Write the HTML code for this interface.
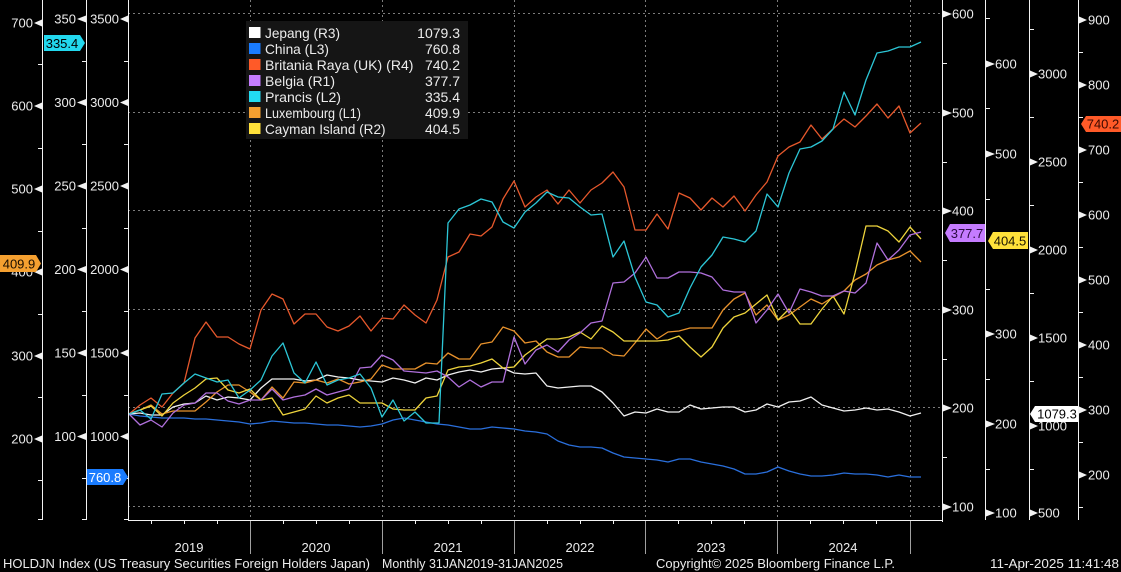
<!DOCTYPE html>
<html><head><meta charset="utf-8"><style>
html,body{margin:0;padding:0;background:#000;}
svg{display:block;}
text{font-family:"Liberation Sans",sans-serif;}
</style></head><body>
<svg width="1121" height="572" viewBox="0 0 1121 572" xmlns="http://www.w3.org/2000/svg">
<rect width="1121" height="572" fill="#000"/>
<!-- grid -->
<g stroke="#7c7c7c" stroke-width="1" stroke-dasharray="2,3" fill="none">
<line x1="128" y1="13.5" x2="942" y2="13.5"/>
<line x1="128" y1="112.5" x2="942" y2="112.5"/>
<line x1="128" y1="210.5" x2="942" y2="210.5"/>
<line x1="128" y1="309.5" x2="942" y2="309.5"/>
<line x1="128" y1="407.5" x2="942" y2="407.5"/>
<line x1="128" y1="506.5" x2="942" y2="506.5"/>
<line x1="250.5" y1="0" x2="250.5" y2="520"/>
<line x1="382.5" y1="0" x2="382.5" y2="520"/>
<line x1="514.5" y1="0" x2="514.5" y2="520"/>
<line x1="645.5" y1="0" x2="645.5" y2="520"/>
<line x1="777.5" y1="0" x2="777.5" y2="520"/>
<line x1="910.5" y1="0" x2="910.5" y2="520"/>
</g>
<!-- series -->
<g fill="none" stroke-width="1.3" stroke-linejoin="round">
<polyline stroke="#2a6fdc" points="129,414 140,416 151,417 162,418 173,418 184,418 195,419 206,419 217,420 228,421 239,422 250,424 261,423 272,421 283,422 294,423 305,423 316,424 327,425 338,425 349,426 360,427 371,426 382,424 393,420 404,418 415,420 426,422 437,424 448,425 459,427 470,429 481,429 492,427 503,428 514,429 525,431 536,432 547,434 558,441 569,445 580,447 591,447 602,448 613,453 624,457 635,458 646,459 657,460 668,462 679,459 690,459 701,462 712,464 723,466 734,469 745,474 756,474 767,472 778,467 789,471 800,474 811,476 822,476 833,475 844,473 855,474 866,474 877,475 888,477 899,475 910,477 921,477"/>
<polyline stroke="#f0f0f0" points="129,414 140,413 151,415 162,415 173,407 184,404 195,403 206,396 217,400 228,397 239,398 250,400 261,388 272,379 283,379 294,379 305,381 316,380 327,375 338,377 349,378 360,380 371,381 382,382 393,378 404,380 415,383 426,378 437,380 448,375 459,372 470,370 481,372 492,369 503,368 514,373 525,374 536,373 547,386 558,388 569,387 580,386 591,386 602,392 613,403 624,416 635,412 646,413 657,409 668,412 679,412 690,405 701,409 712,408 723,407 734,407 745,412 756,410 767,404 778,407 789,402 800,401 811,397 822,405 833,408 844,411 855,410 866,408 877,410 888,409 899,412 910,416 921,413"/>
<polyline stroke="#e8922c" points="129,414 140,410 151,405 162,414 173,411 184,411 195,411 206,402 217,392 228,385 239,385 250,392 261,400 272,387 283,398 294,382 305,383 316,380 327,383 338,379 349,384 360,382 371,379 382,365 393,369 404,369 415,369 426,363 437,364 448,353 459,359 470,359 481,344 492,342 503,327 514,331 525,343 536,341 547,352 558,357 569,357 580,347 591,348 602,348 613,355 624,356 635,343 646,329 657,339 668,332 679,331 690,328 701,328 712,328 723,310 734,299 745,293 756,315 767,305 778,320 789,315 800,307 811,299 822,304 833,297 844,291 855,280 866,274 877,265 888,260 899,257 910,251 921,262"/>
<polyline stroke="#eed43c" points="129,414 140,410 151,406 162,416 173,403 184,395 195,388 206,379 217,378 228,390 239,393 250,389 261,400 272,398 283,415 294,412 305,409 316,396 327,403 338,398 349,395 360,403 371,403 382,403 393,409 404,410 415,410 426,398 437,396 448,370 459,367 470,366 481,363 492,359 503,368 514,367 525,355 536,347 547,339 558,339 569,337 580,332 591,339 602,326 613,332 624,341 635,341 646,341 657,341 668,340 679,336 690,347 701,357 712,347 723,328 734,317 745,313 756,304 767,295 778,320 789,309 800,324 811,324 822,309 833,296 844,314 855,273 866,226 877,226 888,231 899,242 910,227 921,239"/>
<polyline stroke="#b070dc" points="129,414 140,425 151,420 162,427 173,413 184,405 195,403 206,393 217,393 228,401 239,404 250,400 261,400 272,389 283,400 294,397 305,395 316,389 327,395 338,392 349,389 360,368 371,367 382,355 393,360 404,371 415,372 426,373 437,371 448,377 459,387 470,380 481,387 492,382 503,382 514,337 525,364 536,350 547,345 558,352 569,340 580,333 591,323 602,321 613,283 624,282 635,273 646,257 657,278 668,278 679,272 690,272 701,273 712,277 723,290 734,292 745,292 756,323 767,310 778,294 789,313 800,289 811,292 822,296 833,296 844,291 855,293 866,283 877,243 888,260 899,250 910,235 921,232"/>
<polyline stroke="#e6582c" points="129,414 140,405 151,398 162,407 173,393 184,383 195,338 206,322 217,337 228,337 239,344 250,349 261,310 272,294 283,299 294,324 305,314 316,314 327,327 338,331 349,326 360,316 371,331 382,318 393,319 404,305 415,315 426,323 437,300 448,257 459,252 470,234 481,236 492,227 503,199 514,181 525,207 536,197 547,190 558,204 569,190 580,203 591,190 602,183 613,172 624,187 635,230 646,230 657,214 668,229 679,193 690,198 701,210 712,198 723,207 734,196 745,211 756,195 767,182 778,156 789,147 800,142 811,125 822,139 833,129 844,119 855,127 866,116 877,104 888,118 899,106 910,133 921,123"/>
<polyline stroke="#2cc6d6" points="129,414 140,410 151,419 162,394 173,393 184,383 195,374 206,378 217,382 228,380 239,398 250,390 261,380 272,356 283,343 294,373 305,383 316,362 327,385 338,380 349,378 360,374 371,388 382,417 393,400 404,421 415,412 426,423 439,423 448,223 459,209 470,205 481,199 492,202 503,222 514,228 525,212 536,203 547,192 558,197 569,198 580,207 591,215 602,214 613,257 624,241 635,277 646,302 657,305 668,317 679,313 690,288 701,267 712,255 723,237 734,239 745,242 756,231 767,194 778,207 789,173 800,149 811,147 822,141 833,129 844,92 855,115 866,80 877,53 888,51 899,47 910,47 921,42"/>
</g>
<!-- axis lines -->
<g stroke="#f2f2f2" stroke-width="1">
<line x1="42.5" y1="0" x2="42.5" y2="520"/>
<line x1="86.5" y1="0" x2="86.5" y2="520"/>
<line x1="128.5" y1="0" x2="128.5" y2="521"/>
<line x1="942.5" y1="0" x2="942.5" y2="522"/>
<line x1="985.5" y1="0" x2="985.5" y2="520"/>
<line x1="1029.5" y1="0" x2="1029.5" y2="520"/>
<line x1="1078.5" y1="0" x2="1078.5" y2="520"/>
<line x1="128" y1="520.5" x2="942" y2="520.5"/>
</g>
<!-- minor ticks -->
<g stroke="#f2f2f2" stroke-width="1">
<line x1="38" y1="64.5" x2="42" y2="64.5"/><line x1="38" y1="148.5" x2="42" y2="148.5"/><line x1="38" y1="231.5" x2="42" y2="231.5"/><line x1="38" y1="314.5" x2="42" y2="314.5"/><line x1="38" y1="397.5" x2="42" y2="397.5"/><line x1="38" y1="480.5" x2="42" y2="480.5"/><line x1="38" y1="519.5" x2="42" y2="519.5"/>
<line x1="82" y1="61.5" x2="86" y2="61.5"/><line x1="82" y1="144.5" x2="86" y2="144.5"/><line x1="82" y1="228.5" x2="86" y2="228.5"/><line x1="82" y1="311.5" x2="86" y2="311.5"/><line x1="82" y1="395.5" x2="86" y2="395.5"/><line x1="82" y1="478.5" x2="86" y2="478.5"/><line x1="82" y1="519.5" x2="86" y2="519.5"/>
<line x1="124" y1="61.5" x2="128" y2="61.5"/><line x1="124" y1="144.5" x2="128" y2="144.5"/><line x1="124" y1="228.5" x2="128" y2="228.5"/><line x1="124" y1="311.5" x2="128" y2="311.5"/><line x1="124" y1="395.5" x2="128" y2="395.5"/><line x1="124" y1="478.5" x2="128" y2="478.5"/><line x1="124" y1="519.5" x2="128" y2="519.5"/>
<line x1="943" y1="63.5" x2="947" y2="63.5"/><line x1="943" y1="162.5" x2="947" y2="162.5"/><line x1="943" y1="260.5" x2="947" y2="260.5"/><line x1="943" y1="359.5" x2="947" y2="359.5"/><line x1="943" y1="457.5" x2="947" y2="457.5"/>
<line x1="986" y1="18.5" x2="990" y2="18.5"/><line x1="986" y1="108.5" x2="990" y2="108.5"/><line x1="986" y1="199.5" x2="990" y2="199.5"/><line x1="986" y1="289.5" x2="990" y2="289.5"/><line x1="986" y1="379.5" x2="990" y2="379.5"/><line x1="986" y1="469.5" x2="990" y2="469.5"/>
<line x1="1030" y1="29.5" x2="1034" y2="29.5"/><line x1="1030" y1="117.5" x2="1034" y2="117.5"/><line x1="1030" y1="205.5" x2="1034" y2="205.5"/><line x1="1030" y1="293.5" x2="1034" y2="293.5"/><line x1="1030" y1="381.5" x2="1034" y2="381.5"/><line x1="1030" y1="469.5" x2="1034" y2="469.5"/>
<line x1="1079" y1="52.5" x2="1083" y2="52.5"/><line x1="1079" y1="117.5" x2="1083" y2="117.5"/><line x1="1079" y1="182.5" x2="1083" y2="182.5"/><line x1="1079" y1="247.5" x2="1083" y2="247.5"/><line x1="1079" y1="312.5" x2="1083" y2="312.5"/><line x1="1079" y1="377.5" x2="1083" y2="377.5"/><line x1="1079" y1="442.5" x2="1083" y2="442.5"/><line x1="1079" y1="507.5" x2="1083" y2="507.5"/>
</g>
<!-- bottom ticks -->
<g stroke="#f2f2f2" stroke-width="1">
<line x1="151.5" y1="521" x2="151.5" y2="524"/><line x1="184.5" y1="521" x2="184.5" y2="524"/><line x1="217.5" y1="521" x2="217.5" y2="524"/>
<line x1="283.5" y1="521" x2="283.5" y2="524"/><line x1="316.5" y1="521" x2="316.5" y2="524"/><line x1="349.5" y1="521" x2="349.5" y2="524"/>
<line x1="415.5" y1="521" x2="415.5" y2="524"/><line x1="448.5" y1="521" x2="448.5" y2="524"/><line x1="481.5" y1="521" x2="481.5" y2="524"/>
<line x1="547.5" y1="521" x2="547.5" y2="524"/><line x1="580.5" y1="521" x2="580.5" y2="524"/><line x1="613.5" y1="521" x2="613.5" y2="524"/>
<line x1="678.5" y1="521" x2="678.5" y2="524"/><line x1="711.5" y1="521" x2="711.5" y2="524"/><line x1="744.5" y1="521" x2="744.5" y2="524"/>
<line x1="810.5" y1="521" x2="810.5" y2="524"/><line x1="843.5" y1="521" x2="843.5" y2="524"/><line x1="876.5" y1="521" x2="876.5" y2="524"/>
</g>
<g stroke="#a0a0a0" stroke-width="1">
<line x1="250.5" y1="521" x2="250.5" y2="554"/><line x1="382.5" y1="521" x2="382.5" y2="554"/><line x1="514.5" y1="521" x2="514.5" y2="554"/><line x1="645.5" y1="521" x2="645.5" y2="554"/><line x1="777.5" y1="521" x2="777.5" y2="554"/><line x1="910.5" y1="521" x2="910.5" y2="554"/>
</g>
<!-- triangles -->
<g fill="#f2f2f2">
<polygon points="34,23 42,19.5 42,26.5"/><polygon points="34,106 42,102.5 42,109.5"/><polygon points="34,189 42,185.5 42,192.5"/><polygon points="34,272 42,268.5 42,275.5"/><polygon points="34,356 42,352.5 42,359.5"/><polygon points="34,439 42,435.5 42,442.5"/>
<polygon points="77,19 86,15.5 86,22.5"/><polygon points="77,102.5 86,99 86,106"/><polygon points="77,186 86,182.5 86,189.5"/><polygon points="77,269.5 86,266 86,273"/><polygon points="77,353 86,349.5 86,356.5"/><polygon points="77,436.5 86,433 86,440"/>
<polygon points="120,19 128,15.5 128,22.5"/><polygon points="120,102.5 128,99 128,106"/><polygon points="120,186 128,182.5 128,189.5"/><polygon points="120,269.5 128,266 128,273"/><polygon points="120,353 128,349.5 128,356.5"/><polygon points="120,436.5 128,433 128,440"/>
<polygon points="952,14 943,10.5 943,17.5"/><polygon points="952,113 943,109.5 943,116.5"/><polygon points="952,211 943,207.5 943,214.5"/><polygon points="952,310 943,306.5 943,313.5"/><polygon points="952,408 943,404.5 943,411.5"/><polygon points="952,507 943,503.5 943,510.5"/>
<polygon points="995,64 986,60.5 986,67.5"/><polygon points="995,154 986,150.5 986,157.5"/><polygon points="995,334 986,330.5 986,337.5"/><polygon points="995,424 986,420.5 986,427.5"/><polygon points="995,513 986,509.5 986,516.5"/>
<polygon points="1038,74 1030,70.5 1030,77.5"/><polygon points="1038,162 1030,158.5 1030,165.5"/><polygon points="1038,250 1030,246.5 1030,253.5"/><polygon points="1038,338 1030,334.5 1030,341.5"/><polygon points="1038,426 1030,422.5 1030,429.5"/><polygon points="1038,513 1030,509.5 1030,516.5"/>
<polygon points="1087,20 1079,16.5 1079,23.5"/><polygon points="1087,85 1079,81.5 1079,88.5"/><polygon points="1087,150 1079,146.5 1079,153.5"/><polygon points="1087,215 1079,211.5 1079,218.5"/><polygon points="1087,280 1079,276.5 1079,283.5"/><polygon points="1087,345 1079,341.5 1079,348.5"/><polygon points="1087,410 1079,406.5 1079,413.5"/><polygon points="1087,475 1079,471.5 1079,478.5"/>
</g>
<!-- axis labels -->
<g fill="#ececec" font-size="13">
<g text-anchor="end">
<text x="33" y="27.5">700</text><text x="33" y="110.5">600</text><text x="33" y="193.5">500</text><text x="33" y="276.5">400</text><text x="33" y="360.5">300</text><text x="33" y="443.5">200</text>
<text x="76" y="23.5">350</text><text x="76" y="107">300</text><text x="76" y="190.5">250</text><text x="76" y="274">200</text><text x="76" y="357.5">150</text><text x="76" y="441">100</text>
<text x="119" y="23.5">3500</text><text x="119" y="107">3000</text><text x="119" y="190.5">2500</text><text x="119" y="274">2000</text><text x="119" y="357.5">1500</text><text x="119" y="441">1000</text>
</g>
<text x="952" y="18.5">600</text><text x="952" y="117.5">500</text><text x="952" y="215.5">400</text><text x="952" y="314.5">300</text><text x="952" y="412.5">200</text><text x="952" y="511.5">100</text>
<text x="995" y="68.5">600</text><text x="995" y="158.5">500</text><text x="995" y="248.5">400</text><text x="995" y="338.5">300</text><text x="995" y="428.5">200</text><text x="995" y="517.5">100</text>
<text x="1038" y="78.5">3000</text><text x="1038" y="166.5">2500</text><text x="1038" y="254.5">2000</text><text x="1038" y="342.5">1500</text><text x="1038" y="430.5">1000</text><text x="1038" y="517.5">500</text>
<text x="1088" y="24.5">900</text><text x="1088" y="89.5">800</text><text x="1088" y="154.5">700</text><text x="1088" y="219.5">600</text><text x="1088" y="284.5">500</text><text x="1088" y="349.5">400</text><text x="1088" y="414.5">300</text><text x="1088" y="479.5">200</text>
</g>
<!-- value tags -->
<polygon points="44,35 80,35 85,43 80,51 44,51" fill="#22d8ee"/>
<text x="62" y="48" font-size="13" text-anchor="middle" fill="#000">335.4</text>
<polygon points="0,255 36,255 41,263.5 36,272 0,272" fill="#f5a030"/>
<text x="19" y="268.5" font-size="13" text-anchor="middle" fill="#1a0e00">409.9</text>
<polygon points="87,469 123,469 128,477 123,485 87,485" fill="#1a7cff"/>
<text x="105" y="482" font-size="13" text-anchor="middle" fill="#fff">760.8</text>
<polygon points="945,233 950,224 985,224 985,242 950,242" fill="#c57cff"/>
<text x="967" y="238" font-size="13" text-anchor="middle" fill="#2a0a40">377.7</text>
<polygon points="988,241 993,232 1028,232 1028,249 993,249" fill="#ffe13a"/>
<text x="1010" y="245.5" font-size="13" text-anchor="middle" fill="#1a1400">404.5</text>
<polygon points="1081,124 1086,116 1121,116 1121,132 1086,132" fill="#ff5a28"/>
<text x="1103" y="128.5" font-size="13" text-anchor="middle" fill="#3a0800">740.2</text>
<polygon points="1030,414 1035,406 1078,406 1078,422 1035,422" fill="#ffffff"/>
<text x="1057" y="418.5" font-size="13" text-anchor="middle" fill="#000">1079.3</text>
<!-- legend -->
<rect x="246" y="21" width="222" height="118" fill="#151515"/>
<g font-size="14" fill="#ececec">
<rect x="249" y="27" width="11.5" height="11" fill="#ffffff"/>
<rect x="249" y="43" width="11.5" height="11" fill="#1a7cff"/>
<rect x="249" y="59" width="11.5" height="11" fill="#ff5a28"/>
<rect x="249" y="75" width="11.5" height="11" fill="#c57cff"/>
<rect x="249" y="91" width="11.5" height="11" fill="#22dcf2"/>
<rect x="249" y="107" width="11.5" height="11" fill="#f5a030"/>
<rect x="249" y="123" width="11.5" height="11" fill="#ffe13a"/>
<text x="265" y="38" textLength="75" lengthAdjust="spacingAndGlyphs">Jepang (R3)</text>
<text x="265" y="54" textLength="64" lengthAdjust="spacingAndGlyphs">China (L3)</text>
<text x="265" y="70" textLength="148.5" lengthAdjust="spacingAndGlyphs">Britania Raya (UK) (R4)</text>
<text x="265" y="86" textLength="70" lengthAdjust="spacingAndGlyphs">Belgia (R1)</text>
<text x="265" y="102" textLength="76" lengthAdjust="spacingAndGlyphs">Prancis (L2)</text>
<text x="265" y="118" textLength="96" lengthAdjust="spacingAndGlyphs">Luxembourg (L1)</text>
<text x="265" y="134" textLength="120.5" lengthAdjust="spacingAndGlyphs">Cayman Island (R2)</text>
<g text-anchor="end">
<text x="460" y="38">1079.3</text>
<text x="460" y="54">760.8</text>
<text x="460" y="70">740.2</text>
<text x="460" y="86">377.7</text>
<text x="460" y="102">335.4</text>
<text x="460" y="118">409.9</text>
<text x="460" y="134">404.5</text>
</g>
</g>
<!-- year labels -->
<g font-size="13" fill="#ececec" text-anchor="middle">
<text x="189" y="552">2019</text>
<text x="316" y="552">2020</text>
<text x="448" y="552">2021</text>
<text x="580" y="552">2022</text>
<text x="711" y="552">2023</text>
<text x="843" y="552">2024</text>
</g>
<!-- footer -->
<g font-size="13" fill="#ececec">
<text x="3" y="568" textLength="367" lengthAdjust="spacingAndGlyphs">HOLDJN Index (US Treasury Securities Foreign Holders Japan)</text>
<text x="382" y="568" textLength="181" lengthAdjust="spacingAndGlyphs">Monthly 31JAN2019-31JAN2025</text>
<text x="656" y="568" textLength="239" lengthAdjust="spacingAndGlyphs">Copyright© 2025 Bloomberg Finance L.P.</text>
<text x="990" y="568" textLength="129" lengthAdjust="spacingAndGlyphs">11-Apr-2025 11:41:48</text>
</g>
</svg>
</body></html>
